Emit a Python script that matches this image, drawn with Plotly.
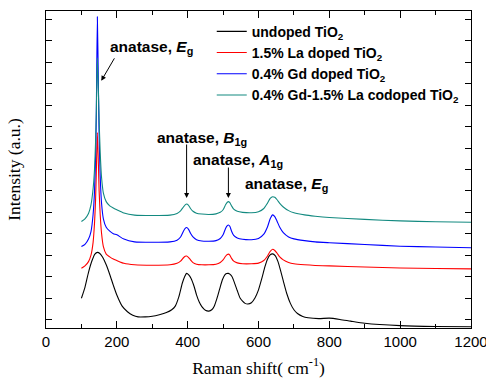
import plotly.graph_objects as go

# ---- data ----
x_black = [100,110,120,130,138,145,152,160,170,180,190,200,215,230,245,260,280,300,320,340,355,365,375,385,392,397,403,410,418,425,433,440,450,460,468,475,483,490,498,505,510,515,520,525,532,540,548,555,562,570,580,590,600,610,618,625,632,640,647,655,662,670,680,690,700,710,725,740,770,800,830,860,900,1000,1100,1200]
y_black = [0.99,1.5,2.2,2.75,3.05,3.13,3.08,2.9,2.55,2.1,1.6,1.14,0.62,0.36,0.2,0.12,0.12,0.15,0.22,0.32,0.45,0.62,1.05,1.7,2.02,2.15,2.08,1.9,1.55,1.15,0.8,0.6,0.43,0.39,0.45,0.62,1.0,1.4,1.85,2.08,2.14,2.15,2.1,2.0,1.72,1.35,1.0,0.85,0.75,0.72,0.78,1.0,1.38,1.95,2.45,2.8,3.0,3.06,2.98,2.7,2.3,1.8,1.2,0.75,0.45,0.28,0.14,0.08,0.04,0.06,0.0,-0.08,-0.18,-0.29,-0.33,-0.34]

x_doped = [100,110,120,127,133,137,140,142,145,148,150,153,157,162,170,180,190,200,220,250,300,350,370,380,388,393,397,402,408,415,425,440,460,480,492,500,507,512,515,519,524,530,540,555,580,600,615,625,633,640,646,652,660,670,685,700,730,760,800,900,1000,1100,1200]
y_red = [2.39,2.5,2.7,3.0,3.6,4.5,5.6,6.8,8.72,7.2,6.0,4.9,4.0,3.4,3.05,2.92,2.82,2.75,2.62,2.55,2.53,2.55,2.62,2.72,2.88,2.95,2.96,2.9,2.78,2.65,2.58,2.55,2.55,2.58,2.66,2.78,2.95,3.03,3.05,3.0,2.85,2.72,2.64,2.6,2.6,2.63,2.75,2.95,3.18,3.28,3.22,3.1,2.92,2.78,2.66,2.6,2.55,2.52,2.5,2.45,2.4,2.38,2.36]
y_blue = [3.4,3.5,3.75,4.1,4.9,6.0,7.6,9.5,14.13,10.8,8.6,6.7,5.4,4.7,4.3,4.12,4.0,3.95,3.75,3.62,3.6,3.62,3.7,3.85,4.12,4.25,4.29,4.22,4.02,3.85,3.72,3.66,3.65,3.68,3.78,3.95,4.25,4.38,4.41,4.35,4.12,3.92,3.8,3.74,3.72,3.78,3.98,4.3,4.7,4.88,4.8,4.6,4.3,4.05,3.85,3.76,3.68,3.62,3.58,3.5,3.42,3.38,3.35]
y_teal = [4.57,4.7,4.95,5.35,6.1,7.0,8.3,9.6,12.2,10.6,9.3,7.8,6.6,5.9,5.5,5.3,5.2,5.12,4.97,4.87,4.85,4.87,4.95,5.07,5.25,5.35,5.39,5.34,5.18,5.05,4.96,4.92,4.9,4.93,5.0,5.12,5.35,5.47,5.5,5.45,5.3,5.15,5.05,5.0,4.98,5.03,5.18,5.42,5.65,5.73,5.7,5.6,5.42,5.25,5.08,4.98,4.88,4.82,4.76,4.67,4.6,4.56,4.54]

names = ["undoped TiO<sub>2</sub>", "1.5% La doped TiO<sub>2</sub>",
         "0.4% Gd doped TiO<sub>2</sub>", "0.4% Gd-1.5% La codoped TiO<sub>2</sub>"]
colors = ["#000000", "#ff0000", "#0000ff", "#138a80"]

fig = go.Figure()
series = [(x_black, y_black), (x_doped, y_red), (x_doped, y_blue), (x_doped, y_teal)]
for (xs, ys), nm, c in zip(series, names, colors):
    fig.add_trace(go.Scatter(x=xs, y=ys, mode="lines", name="<b>" + nm + "</b>",
                             line=dict(color=c, width=1.1, shape="spline", smoothing=0.6)))

bold = dict(family="Liberation Sans, Arial", size=15.5, color="black")
# peak labels
fig.add_annotation(x=176, y=12.69, text="<b>anatase, <i>E</i><sub>g</sub></b>", showarrow=False,
                   font=bold, xanchor="left")
fig.add_annotation(x=440, y=8.45, text="<b>anatase, <i>B</i><sub>1g</sub></b>", showarrow=False, font=bold)
fig.add_annotation(x=542, y=7.42, text="<b>anatase, <i>A</i><sub>1g</sub></b>", showarrow=False, font=bold)
fig.add_annotation(x=680, y=6.3, text="<b>anatase, <i>E</i><sub>g</sub></b>", showarrow=False, font=bold)
# arrows
arrow = dict(showarrow=True, arrowhead=2, arrowsize=1, arrowwidth=1, arrowcolor="black", text="")
fig.add_annotation(x=156, y=11.14, ax=14, ay=-24, **arrow)
fig.add_annotation(x=397, y=5.67, ax=0, ay=-55, **arrow)
fig.add_annotation(x=515, y=5.67, ax=0, ay=-32, **arrow)

axis_common = dict(showline=True, linecolor="black", linewidth=1.2, mirror="allticks",
                   ticks="inside", tickcolor="black", showgrid=False, zeroline=False,
                   automargin=False)
fig.update_xaxes(range=[0, 1200], dtick=200, ticklen=7, ticklabeloverflow="allow",
                 minor=dict(dtick=100, ticks="inside", ticklen=4, tickcolor="black"),
                 tickfont=dict(family="Liberation Sans, Arial", size=15, color="black"),
                 title=dict(text="Raman shift( cm<sup>-1</sup>)", standoff=12,
                            font=dict(family="Liberation Serif, Times New Roman", size=17.5, color="black")),
                 **axis_common)
fig.update_yaxes(range=[-0.4, 14.4], dtick=1, ticklen=6, showticklabels=False,
                 title=dict(text="Intensity (a.u.)", standoff=19,
                            font=dict(family="Liberation Serif, Times New Roman", size=17.5, color="black")),
                 **axis_common)

fig.update_layout(
    width=486, height=390,
    margin=dict(l=46, r=15, t=11, b=62),
    plot_bgcolor="white", paper_bgcolor="white",
    legend=dict(x=0.39, y=0.985, xanchor="left", yanchor="top", bgcolor="rgba(0,0,0,0)",
                itemwidth=30,
                font=dict(family="Liberation Sans, Arial", size=14, color="black")),
    showlegend=True,
)

fig.write_html("out.html")
